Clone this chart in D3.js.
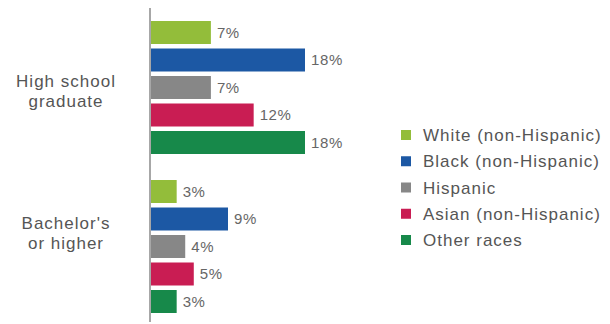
<!DOCTYPE html>
<html>
<head>
<meta charset="utf-8">
<script src="https://cdn.jsdelivr.net/npm/d3@7"></script>
<style>
  body { margin: 0; background: #fff; }
  svg { display: block; font-family: "Liberation Sans", Arial, sans-serif; }
</style>
</head>
<body>
<script>
// education level groups and race series
var groups = ['High school graduate', 'Bachelor\'s or higher'];
var groupLines = [['High school', 'graduate'], ['Bachelor\'s', 'or higher']];
var series = ['White (non-Hispanic)', 'Black (non-Hispanic)', 'Hispanic', 'Asian (non-Hispanic)', 'Other races'];
var colors = ['#93bd3a', '#1c58a4', '#878787', '#c91d53', '#17894a'];

// percent values, one array per group
var highSchool = [7, 18, 7, 12, 18];
var bachelors = [3, 9, 4, 5, 3];
var values = [highSchool, bachelors];

var width = 610, height = 324;

var svg = d3.select('body').append('svg')
	.attr('width', width)
	.attr('height', height);

var x = d3.scaleLinear()
	.domain([0, 18])
	.range([151, 305]);

var y0 = d3.scaleBand()
	.domain(groups)
	.range([21, 313])
	.paddingInner(0.1635);

var y1 = d3.scaleBand()
	.domain(series)
	.range([0, y0.bandwidth()])
	.paddingInner(0.1636);

var color = d3.scaleOrdinal().domain(series).range(colors);

// bars
var rows = [];
groups.forEach(function(g, gi){
	series.forEach(function(s, si){
		rows.push({group: g, series: s, value: values[gi][si]});
	});
});

var bars = svg.append('g').attr('id', 'bar-layer');

bars.selectAll('rect')
	.data(rows)
	.enter().append('rect')
	.attr('x', x(0))
	.attr('y', function(d){ return y0(d.group) + y1(d.series); })
	.attr('width', function(d){ return x(d.value) - x(0); })
	.attr('height', y1.bandwidth())
	.attr('fill', function(d){ return color(d.series); });

bars.selectAll('text')
	.data(rows)
	.enter().append('text')
	.attr('x', function(d){ return x(d.value) + 6; })
	.attr('y', function(d){ return y0(d.group) + y1(d.series) + y1.bandwidth() / 2; })
	.attr('dy', '0.36em')
	.attr('font-size', 15)
	.attr('letter-spacing', 0.6)
	.attr('fill', '#666')
	.text(function(d){ return d.value + '%'; });

// vertical axis line
svg.append('line')
	.attr('x1', 150).attr('x2', 150)
	.attr('y1', 8).attr('y2', 322)
	.attr('stroke', '#8a8a8a')
	.attr('stroke-width', 1.5);

// group labels
var labelOffsets = [[87, 107], [229, 249]];
var labels = svg.append('g').attr('id', 'label-layer');
groups.forEach(function(g, gi){
	var t = labels.append('text')
		.attr('text-anchor', 'middle')
		.attr('font-size', 17)
		.attr('letter-spacing', 1)
		.attr('fill', '#555');
	groupLines[gi].forEach(function(line, li){
		t.append('tspan')
			.attr('x', 66)
			.attr('y', labelOffsets[gi][li])
			.text(line);
	});
});

// legend
var legend = svg.append('g').attr('id', 'legend-layer');
var ly = d3.scalePoint().domain(series).range([135, 240]);

legend.selectAll('rect')
	.data(series)
	.enter().append('rect')
	.attr('x', 401)
	.attr('y', function(d){ return ly(d) - 5; })
	.attr('width', 10)
	.attr('height', 10)
	.attr('fill', function(d){ return color(d); });

legend.selectAll('text')
	.data(series)
	.enter().append('text')
	.attr('x', 423)
	.attr('y', function(d){ return ly(d); })
	.attr('dy', '0.36em')
	.attr('font-size', 17)
	.attr('letter-spacing', 1)
	.attr('fill', '#555')
	.text(function(d){ return d; });
</script>
</body>
</html>
